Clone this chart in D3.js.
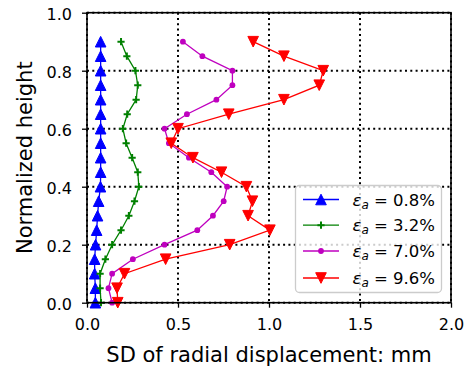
<!DOCTYPE html>
<html>
<head>
<meta charset="utf-8">
<script src="https://cdn.jsdelivr.net/npm/d3@7/dist/d3.min.js"></script>
<style>
  html, body { margin: 0; padding: 0; background: #fff; }
  svg { display: block; font-family: "DejaVu Sans", sans-serif; }
</style>
</head>
<body>
<svg id="chart" width="466" height="371"></svg>
<script>
// ---- data ----
const heights = [0.9, 0.85, 0.8, 0.75, 0.7, 0.65, 0.6, 0.55, 0.5, 0.45, 0.4, 0.35, 0.3, 0.25, 0.2, 0.15, 0.1, 0.05, 0.0];
const sd_08 = [0.075, 0.075, 0.075, 0.075, 0.075, 0.075, 0.075, 0.075, 0.075, 0.075, 0.074, 0.064, 0.058, 0.053, 0.047, 0.042, 0.042, 0.046, 0.046];
const sd_32 = [0.187, 0.219, 0.266, 0.279, 0.270, 0.221, 0.197, 0.215, 0.248, 0.279, 0.285, 0.261, 0.230, 0.187, 0.138, 0.101, 0.072, 0.072, 0.077];
const sd_70 = [0.527, 0.634, 0.799, 0.799, 0.711, 0.549, 0.426, 0.450, 0.560, 0.683, 0.770, 0.751, 0.692, 0.606, 0.426, 0.252, 0.138, 0.118, 0.138];
const sd_96 = [0.913, 1.082, 1.298, 1.276, 1.082, 0.779, 0.500, 0.463, 0.582, 0.739, 0.876, 0.909, 0.885, 1.005, 0.784, 0.432, 0.206, 0.165, 0.169];
const seriesNames = ["0.8%", "3.2%", "7.0%", "9.6%"];
const xTicks = [0.0, 0.5, 1.0, 1.5, 2.0];
const yTicks = [0.0, 0.2, 0.4, 0.6, 0.8, 1.0];

const series = [
  { name: seriesNames[0], values: sd_08, color: "#0000ff", marker: "up" },
  { name: seriesNames[1], values: sd_32, color: "#008000", marker: "plus" },
  { name: seriesNames[2], values: sd_70, color: "#bf00bf", marker: "dot" },
  { name: seriesNames[3], values: sd_96, color: "#ff0000", marker: "down" }
];

const svg = d3.select("#chart");
const L = 87, R = 451, T = 12.7, B = 302.7;
const x = d3.scaleLinear().domain([0, 2]).range([L, R]);
const y = d3.scaleLinear().domain([0, 1]).range([B, T]);

// grid
const grid = svg.append("g");
xTicks.forEach(t => {
  grid.append("line").attr("x1", x(t)).attr("x2", x(t)).attr("y1", T).attr("y2", B)
    .attr("stroke", "#000").attr("stroke-width", 2).attr("stroke-dasharray", "2,3.3");
});
yTicks.forEach(t => {
  grid.append("line").attr("x1", L).attr("x2", R).attr("y1", y(t)).attr("y2", y(t))
    .attr("stroke", "#000").attr("stroke-width", 2).attr("stroke-dasharray", "2,3.3");
});

function markerPath(type, s) {
  if (type === "up") return `M0,${-s}L${-s},${s}L${s},${s}Z`;
  if (type === "down") return `M0,${s}L${-s},${-s}L${s},${-s}Z`;
  return null;
}
function drawMarker(g, type, color, cx, cy) {
  if (type === "up" || type === "down") {
    g.append("path").attr("d", markerPath(type, 5.3)).attr("transform", `translate(${cx},${cy})`)
      .attr("fill", color).attr("stroke", color).attr("stroke-width", 1);
  } else if (type === "plus") {
    g.append("path").attr("d", "M-3.6,0H3.6M0,-3.6V3.6").attr("transform", `translate(${cx},${cy})`)
      .attr("stroke", color).attr("stroke-width", 2).attr("fill", "none");
  } else {
    g.append("circle").attr("cx", cx).attr("cy", cy).attr("r", 2.9).attr("fill", color);
  }
}

// series
const line = d3.line().x(d => x(d[0])).y(d => y(d[1]));
series.forEach(s => {
  const pts = s.values.map((v, i) => [v, heights[i]]);
  const g = svg.append("g");
  g.append("path").attr("d", line(pts)).attr("fill", "none").attr("stroke", s.color).attr("stroke-width", 1.3);
  pts.forEach(p => drawMarker(g, s.marker, s.color, x(p[0]), y(p[1])));
});

// axes
const xAxis = d3.axisBottom(x).tickValues(xTicks).tickFormat(d3.format(".1f")).tickSize(5).tickPadding(11);
const yAxis = d3.axisLeft(y).tickValues(yTicks).tickFormat(d3.format(".1f")).tickSize(5).tickPadding(10);
const gx = svg.append("g").attr("transform", `translate(0,${B})`).call(xAxis);
const gy = svg.append("g").attr("transform", `translate(${L},0)`).call(yAxis);
[gx, gy].forEach(g => {
  g.select(".domain").remove();
  g.selectAll(".tick line").attr("stroke", "#000").attr("stroke-width", 1.3);
  g.selectAll(".tick text").attr("font-size", 16).attr("fill", "#000").attr("font-family", "DejaVu Sans");
});
gy.selectAll(".tick text").attr("dy", "0.45em");

// frame
svg.append("rect").attr("x", L).attr("y", T).attr("width", R - L).attr("height", B - T)
  .attr("fill", "none").attr("stroke", "#000").attr("stroke-width", 1.6);

// axis labels
svg.append("text").attr("x", (L + R) / 2).attr("y", 361.5).attr("text-anchor", "middle")
  .attr("font-size", 21).attr("fill", "#000").text("SD of radial displacement: mm");
svg.append("text").attr("transform", `translate(32,${(T + B) / 2}) rotate(-90)`).attr("text-anchor", "middle")
  .attr("font-size", 21).attr("fill", "#000").text("Normalized height");

// legend
const lg = svg.append("g");
lg.append("rect").attr("x", 295.5).attr("y", 185.5).attr("width", 146).attr("height", 107).attr("rx", 4)
  .attr("fill", "#fff").attr("fill-opacity", 0.8).attr("stroke", "#cccccc").attr("stroke-width", 1.3);
const rowY = [199.5, 225.2, 251, 278];
series.forEach((s, i) => {
  const cy = rowY[i];
  lg.append("line").attr("x1", 303).attr("x2", 339).attr("y1", cy).attr("y2", cy)
    .attr("stroke", s.color).attr("stroke-width", 1.3);
  drawMarker(lg, s.marker, s.color, 321, cy);
  const t = lg.append("text").attr("x", 352.5).attr("y", cy + 6).attr("font-size", 16.5).attr("fill", "#000");
  t.append("tspan").attr("font-style", "italic").text("ε");
  t.append("tspan").attr("font-style", "italic").attr("font-size", 12).attr("dy", 3).text("a");
  t.append("tspan").attr("dy", -3).text(" = " + s.name);
});
</script>
</body>
</html>
